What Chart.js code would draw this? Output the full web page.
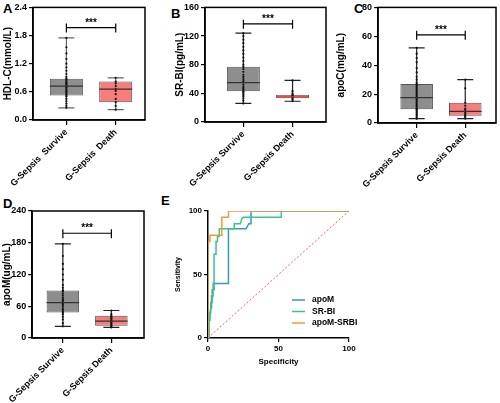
<!DOCTYPE html>
<html>
<head>
<meta charset="utf-8">
<script src="https://cdn.jsdelivr.net/npm/chart.js@4.4.1/dist/chart.umd.min.js"></script>
<style>
  body { margin: 0; width: 500px; height: 403px; position: relative; overflow: hidden; background: #fff; font-family: "Liberation Sans", Arial, sans-serif; }
  canvas { position: absolute; }
  .tag { position: absolute; font-weight: bold; font-size: 13px; line-height: 13px; }
</style>
</head>
<body>
<div class="tag" style="left:3px;top:2px">A</div>
<div class="tag" style="left:171px;top:7px">B</div>
<div class="tag" style="left:354px;top:2px">C</div>
<div class="tag" style="left:3px;top:197px">D</div>
<div class="tag" style="left:161px;top:194px">E</div>

<canvas id="chartA" width="165" height="200" style="left:0;top:0"></canvas>
<canvas id="chartB" width="165" height="200" style="left:165px;top:0"></canvas>
<canvas id="chartC" width="170" height="200" style="left:330px;top:0"></canvas>
<canvas id="chartD" width="165" height="208" style="left:0;top:195px"></canvas>
<canvas id="chartE" width="212" height="208" style="left:168px;top:195px"></canvas>

<script>
const FONT = '"Liberation Sans", Arial, sans-serif';

// box stats are [min, q1, median, q3, max]
const hdlGroups = ['G-Sepsis  Survive', 'G-Sepsis  Death'];
const hdlSurvive = [0.26, 0.52, 0.72, 0.88, 1.75];
const hdlDeath = [0.22, 0.38, 0.66, 0.82, 0.90];
const hdlSurviveDots = [0.26, 0.3, 0.35, 0.4, 0.45, 0.5, 0.52, 0.55, 0.58, 0.6, 0.62, 0.65, 0.68, 0.7, 0.72, 0.74, 0.76, 0.78, 0.8, 0.83, 0.86, 0.88, 0.92, 0.98, 1.05, 1.12, 1.2, 1.3, 1.42, 1.55, 1.75];
const hdlDeathDots = [0.22, 0.3, 0.38, 0.45, 0.55, 0.62, 0.66, 0.72, 0.78, 0.82, 0.9];
const hdlTicks = [0, 0.6, 1.2, 1.8, 2.4];
const hdlSig = 1.97;

const groups = ['G-Sepsis Survive', 'G-Sepsis Death'];

const srSurvive = [26, 43, 55, 77, 124];
const srDeath = [29, 33, 35, 38, 58];
const srSurviveDots = [26, 30, 33, 36, 38, 40, 42, 43, 45, 47, 49, 52, 55, 57, 60, 63, 66, 70, 74, 77, 80, 85, 90, 95, 100, 105, 110, 115, 120, 124];
const srDeathDots = [29, 31, 33, 34, 35, 35, 36, 37, 38, 40, 43, 58];
const srTicks = [0, 40, 80, 120, 160];
const srSig = 137;

const apocSurvive = [3, 9.5, 17.5, 27, 52];
const apocDeath = [3, 5, 8, 14, 30];
const apocSurviveDots = [3, 4, 5, 6, 7, 8, 9, 9.5, 10, 11, 12, 13, 14, 15, 16, 17, 17.5, 18, 19, 20, 21, 22, 23, 24, 25, 26, 27, 28, 30, 32, 35, 38, 42, 45, 48, 52];
const apocDeathDots = [3, 4, 5, 6, 7, 8, 9, 10, 12, 14, 24, 30];
const apocTicks = [0, 20, 40, 60, 80];
const apocSig = 61;

const apomSurvive = [22, 48, 67, 90, 178];
const apomDeath = [20, 23, 32, 42, 52];
const apomSurviveDots = [22, 28, 35, 40, 45, 48, 50, 53, 56, 60, 63, 66, 67, 70, 73, 76, 80, 84, 88, 90, 95, 100, 110, 120, 130, 140, 155, 178];
const apomDeathDots = [20, 22, 24, 26, 28, 30, 32, 34, 36, 38, 40, 42, 45, 52];
const apomTicks = [0, 60, 120, 180, 240];
const apomSig = 198;

// ROC curves (specificity axis, sensitivity)
const rocTicks = [0, 50, 100];
const rocApomX = [0, 0.7, 0.7, 1.4, 2, 2.5, 2.5, 3, 3, 4.3, 4.3, 14.5, 14.5, 27, 29, 30.5, 30.5, 100];
const rocApomY = [0, 0, 14, 19, 24, 24, 33, 33, 38, 38, 43, 43, 86, 86, 90, 90, 100, 100];
const rocSrbiX = [0, 0.7, 0.7, 1.4, 1.4, 2, 2, 3, 3, 3.6, 3.6, 4.3, 4.3, 5.7, 5.7, 6.7, 6.7, 8, 8, 18.6, 18.6, 23, 24, 25, 52, 52, 100];
const rocSrbiY = [0, 0, 14, 14, 20, 20, 28, 28, 33, 33, 43, 43, 66, 66, 76, 76, 80, 80, 86, 86, 90, 90, 94, 95, 95, 100, 100];
const rocComboX = [0, 0, 1.4, 1.4, 9.8, 9.8, 14.5, 14.5, 100];
const rocComboY = [0, 76, 76, 81, 81, 95, 95, 100, 100];
const rocChanceX = [0, 100];
const rocChanceY = [0, 100];

Chart.defaults.font.family = FONT;
Chart.defaults.font.weight = 'bold';
Chart.defaults.color = '#000';

const boxPlot = {
  id: 'boxPlot',
  beforeDatasetsDraw(chart, args, o) {
    const { ctx, scales: { x, y } } = chart;
    ctx.save();
    ctx.strokeStyle = o.whisker;
    ctx.lineWidth = 1.2;
    o.stats.forEach((s, i) => {
      const cx = x.getPixelForValue(i);
      const lo = y.getPixelForValue(s[0]);
      const hi = y.getPixelForValue(s[4]);
      ctx.beginPath();
      ctx.moveTo(cx, lo); ctx.lineTo(cx, hi);
      ctx.moveTo(cx - o.cap, lo); ctx.lineTo(cx + o.cap, lo);
      ctx.moveTo(cx - o.cap, hi); ctx.lineTo(cx + o.cap, hi);
      ctx.stroke();
    });
    ctx.restore();
  },
  afterDatasetsDraw(chart, args, o) {
    const { ctx, chartArea: a, scales: { x, y } } = chart;
    const boxes = chart.getDatasetMeta(1).data;
    ctx.save();
    o.stats.forEach((s, i) => {
      const bar = boxes[i];
      const m = y.getPixelForValue(s[2]);
      ctx.strokeStyle = o.median[i];
      ctx.lineWidth = 1.2;
      ctx.beginPath();
      ctx.moveTo(bar.x - bar.width / 2, m);
      ctx.lineTo(bar.x + bar.width / 2, m);
      ctx.stroke();
    });

    // frame round the plot
    ctx.strokeStyle = '#000';
    ctx.lineWidth = 1.5;
    ctx.strokeRect(a.left, a.top, a.right - a.left, a.bottom - a.top);

    // significance bracket
    const x0 = x.getPixelForValue(0);
    const x1 = x.getPixelForValue(1);
    const sy = y.getPixelForValue(o.sig);
    ctx.lineWidth = 1.2;
    ctx.beginPath();
    ctx.moveTo(x0, sy); ctx.lineTo(x1, sy);
    ctx.moveTo(x0, sy - 4); ctx.lineTo(x0, sy + 5);
    ctx.moveTo(x1, sy - 4); ctx.lineTo(x1, sy + 5);
    ctx.stroke();
    ctx.fillStyle = '#000';
    ctx.font = 'bold 10px ' + FONT;
    ctx.textAlign = 'center';
    ctx.textBaseline = 'alphabetic';
    ctx.fillText('***', (x0 + x1) / 2, sy - 2);
    ctx.restore();
  }
};

function boxChart(id, cfg) {
  const stats = [cfg.survive, cfg.death];
  const dots = cfg.surviveDots.map(v => ({ x: 0, y: v }))
    .concat(cfg.deathDots.map(v => ({ x: 1, y: v })));

  return new Chart(document.getElementById(id), {
    type: 'bar',
    data: {
      datasets: [
        {
          type: 'scatter',
          data: dots,
          pointRadius: 1.1,
          pointBackgroundColor: '#111',
          pointBorderWidth: 0,
          order: 0,
        },
        {
          type: 'bar',
          data: stats.map((s, i) => ({ x: i, y: [s[1], s[3]] })),
          backgroundColor: ['#8e8e8e', '#f77d7d'],
          borderColor: '#555',
          borderWidth: 1,
          borderSkipped: false,
          barPercentage: 0.67,
          categoryPercentage: 1,
          order: 1,
        },
      ],
    },
    options: {
      responsive: false,
      animation: false,
      devicePixelRatio: 1,
      events: [],
      layout: { padding: cfg.padding },
      plugins: {
        legend: { display: false },
        tooltip: { enabled: false },
        boxPlot: {
          stats,
          sig: cfg.sig,
          cap: 8,
          whisker: cfg.whisker || '#222',
          median: cfg.median || ['#333', '#333'],
        },
      },
      scales: {
        x: {
          type: 'linear',
          min: cfg.xRange[0],
          max: cfg.xRange[1],
          offset: false,
          afterBuildTicks: s => { s.ticks = [{ value: 0 }, { value: 1 }]; },
          afterFit: s => { s.height = cfg.xHeight; },
          grid: { display: true, offset: false, drawOnChartArea: false, tickLength: 5, color: '#000', lineWidth: 1.2 },
          border: { display: true, color: '#000', width: 1.5 },
          ticks: {
            color: '#000',
            font: { size: 9, weight: 'bold' },
            minRotation: 45,
            maxRotation: 45,
            autoSkip: false,
            padding: 2,
            callback: v => cfg.groups[v],
          },
        },
        y: {
          min: cfg.ticks[0],
          max: cfg.ticks[cfg.ticks.length - 1],
          afterBuildTicks: s => { s.ticks = cfg.ticks.map(v => ({ value: v })); },
          afterFit: s => { s.width = cfg.yWidth; },
          grid: { display: true, drawOnChartArea: false, tickLength: 4, color: '#000', lineWidth: 1.2 },
          border: { display: true, color: '#000', width: 1.5 },
          ticks: {
            color: '#000',
            font: { size: 9, weight: 'bold' },
            padding: 2,
            callback: v => cfg.fmt ? cfg.fmt(v) : String(v),
          },
          title: {
            display: true,
            text: cfg.title,
            color: '#000',
            font: { size: 10, weight: 'bold' },
            padding: 0,
          },
        },
      },
    },
    plugins: [boxPlot],
  });
}

boxChart('chartA', {
  groups: hdlGroups, survive: hdlSurvive, death: hdlDeath,
  surviveDots: hdlSurviveDots, deathDots: hdlDeathDots,
  ticks: hdlTicks, sig: hdlSig, title: 'HDL-C(mmol/L)',
  fmt: v => v.toFixed(1),
  whisker: '#666',
  xRange: [-0.677, 1.594],
  padding: { top: 4, right: 20, left: 2, bottom: 0 },
  yWidth: 31, xHeight: 80,
});

boxChart('chartB', {
  groups, survive: srSurvive, death: srDeath,
  surviveDots: srSurviveDots, deathDots: srDeathDots,
  ticks: srTicks, sig: srSig, title: 'SR-BI(pg/mL)',
  median: ['#333', '#e03a3a'],
  xRange: [-0.78, 1.68],
  padding: { top: 5, right: 2, left: 9, bottom: 0 },
  yWidth: 31, xHeight: 78,
});

boxChart('chartC', {
  groups, survive: apocSurvive, death: apocDeath,
  surviveDots: apocSurviveDots, deathDots: apocDeathDots,
  ticks: apocTicks, sig: apocSig, title: 'apoC(mg/mL)',
  xRange: [-0.796, 1.633],
  padding: { top: 5, right: 3, left: 5, bottom: 0 },
  yWidth: 43, xHeight: 77,
});

boxChart('chartD', {
  groups, survive: apomSurvive, death: apomDeath,
  surviveDots: apomSurviveDots, deathDots: apomDeathDots,
  ticks: apomTicks, sig: apomSig, title: 'apoM(ug/mL)',
  xRange: [-0.633, 1.673],
  padding: { top: 16, right: 21, left: 0, bottom: 0 },
  yWidth: 31, xHeight: 65,
});

// ROC legend drawn inside the plot
const rocLegend = {
  id: 'rocLegend',
  afterDatasetsDraw(chart, args, o) {
    const { ctx, chartArea: a } = chart;
    ctx.save();
    ctx.font = 'bold 8.5px ' + FONT;
    ctx.textBaseline = 'middle';
    ctx.textAlign = 'left';
    o.items.forEach((idx, k) => {
      const ds = chart.data.datasets[idx];
      const yy = a.top + o.top + k * o.gap;
      const xx = a.left + o.left;
      ctx.strokeStyle = ds.borderColor;
      ctx.lineWidth = 1.5;
      ctx.beginPath();
      ctx.moveTo(xx, yy);
      ctx.lineTo(xx + 13, yy);
      ctx.stroke();
      ctx.fillStyle = '#000';
      ctx.fillText(ds.label, xx + 20, yy);
    });
    ctx.restore();
  }
};

const toPoints = (xs, ys) => xs.map((v, i) => ({ x: v, y: ys[i] }));

new Chart(document.getElementById('chartE'), {
  type: 'scatter',
  data: {
    datasets: [
      { label: 'apoM-SRBI', data: toPoints(rocComboX, rocComboY), borderColor: '#f7963c' },
      { label: 'SR-BI', data: toPoints(rocSrbiX, rocSrbiY), borderColor: '#3cc48a' },
      { label: 'apoM', data: toPoints(rocApomX, rocApomY), borderColor: '#3a97bd' },
      { label: 'chance', data: toPoints(rocChanceX, rocChanceY), borderColor: '#ff5a5a', borderWidth: 1, borderDash: [2, 2] },
    ].map(d => Object.assign({ showLine: true, pointRadius: 0, borderWidth: 1.5, fill: false }, d)),
  },
  options: {
    responsive: false,
    animation: false,
    devicePixelRatio: 1,
    events: [],
    layout: { padding: { top: 16, right: 31, left: 6, bottom: 36 } },
    plugins: {
      legend: { display: false },
      tooltip: { enabled: false },
      rocLegend: { items: [2, 1, 0], left: 84, top: 89, gap: 11.5 },
    },
    scales: {
      x: {
        min: 0, max: 100,
        afterBuildTicks: s => { s.ticks = rocTicks.map(v => ({ value: v })); },
        afterFit: s => { s.height = 29; },
        grid: { display: true, drawOnChartArea: false, tickLength: 4, color: '#000', lineWidth: 1.2 },
        border: { display: true, color: '#000', width: 1.5 },
        ticks: { color: '#000', font: { size: 8, weight: 'bold' }, padding: 2, maxRotation: 0 },
        title: { display: true, text: 'Specificity', color: '#000', font: { size: 8, weight: 'bold' }, padding: 0 },
      },
      y: {
        min: 0, max: 100,
        afterBuildTicks: s => { s.ticks = rocTicks.map(v => ({ value: v })); },
        afterFit: s => { s.width = 34; },
        grid: { display: true, drawOnChartArea: false, tickLength: 4, color: '#000', lineWidth: 1.2 },
        border: { display: true, color: '#000', width: 1.5 },
        ticks: { color: '#000', font: { size: 8, weight: 'bold' }, padding: 2 },
        title: { display: true, text: 'Sensitivity', color: '#000', font: { size: 7, weight: 'bold' }, padding: 0 },
      },
    },
  },
  plugins: [rocLegend],
});
</script>
</body>
</html>
